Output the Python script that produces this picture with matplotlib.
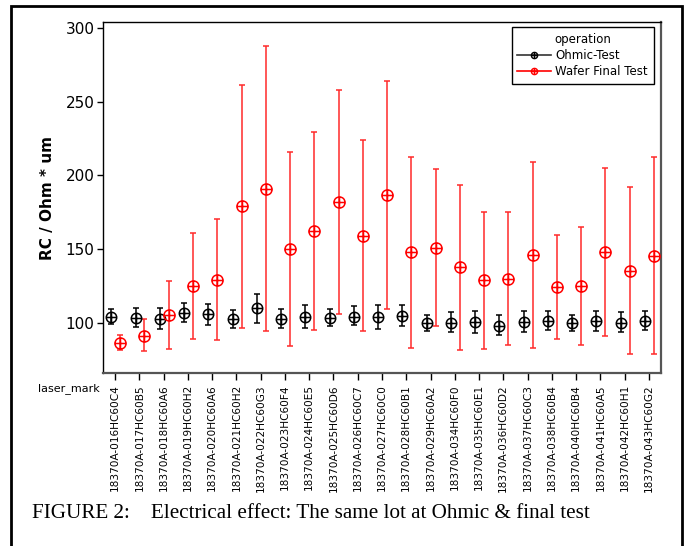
import matplotlib
matplotlib.use('Agg')
import matplotlib.pyplot as plt
import matplotlib.patches as mpatches
from matplotlib.path import Path
from matplotlib.lines import Line2D
import numpy as np


laser_marks = [
    '18370A-016HC60C4', '18370A-017HC60B5', '18370A-018HC60A6', '18370A-019HC60H2',
    '18370A-020HC60A6', '18370A-021HC60H2', '18370A-022HC60G3', '18370A-023HC60F4',
    '18370A-024HC60E5', '18370A-025HC60D6', '18370A-026HC60C7', '18370A-027HC60C0',
    '18370A-028HC60B1', '18370A-029HC60A2', '18370A-034HC60F0', '18370A-035HC60E1',
    '18370A-036HC60D2', '18370A-037HC60C3', '18370A-038HC60B4', '18370A-040HC60B4',
    '18370A-041HC60A5', '18370A-042HC60H1', '18370A-043HC60G2',
]

# Ohmic-Test: mean, upper and lower bar ends
ohmic_mean = [104.3, 103.6, 102.7, 107.0, 106.3, 102.5, 110.0, 102.7, 104.1, 103.4, 104.3, 104.3,
              105.0, 99.8, 99.8, 100.5, 98.2, 100.9, 101.4, 99.8, 101.4, 99.8, 101.4]
ohmic_hi = [109.5, 110.4, 110.4, 113.8, 113.1, 108.8, 119.9, 109.5, 112.2, 109.5, 111.5, 112.2,
            112.2, 105.4, 107.3, 108.1, 105.4, 108.1, 108.1, 105.6, 108.1, 107.3, 108.1]
ohmic_lo = [99.5, 97.1, 95.9, 100.9, 98.4, 96.8, 100.2, 96.8, 96.8, 97.8, 98.6, 95.7,
            98.0, 94.8, 93.9, 93.4, 91.9, 94.1, 95.0, 94.4, 94.8, 93.9, 95.2]

# Wafer Final Test
final_mean = [86.2, 91.4, 105.4, 125.0, 129.2, 179.3, 190.6, 150.4, 162.6, 182.0, 159.0, 186.8,
              147.9, 150.6, 137.7, 129.2, 130.0, 145.9, 124.2, 125.0, 147.9, 135.0, 145.2]
final_hi = [91.7, 102.9, 128.5, 161.2, 170.3, 261.6, 288.0, 216.1, 229.7, 258.2, 224.0, 264.0,
            212.8, 204.2, 193.3, 175.3, 175.3, 209.4, 159.9, 165.1, 205.3, 192.4, 212.3]
final_lo = [81.7, 80.8, 82.4, 88.9, 88.2, 96.8, 94.4, 84.2, 95.0, 106.3, 94.6, 109.7,
            83.3, 98.0, 81.7, 82.4, 85.1, 83.3, 89.2, 85.3, 91.0, 79.2, 79.0]

# circle with a cross inside
circ = Path.unit_circle()
cross = Path([(-1, 0), (1, 0), (0, -1), (0, 1)],
             [Path.MOVETO, Path.LINETO, Path.MOVETO, Path.LINETO])
CIRCLE_PLUS = Path.make_compound_path(circ, cross)

fig = plt.figure(figsize=(6.88, 5.46), dpi=100)
ax = fig.add_axes([0.1497, 0.3168, 0.8111, 0.6429])

x = np.arange(len(laser_marks))


def draw_group(offset, mean, hi, lo, color, ecolor, ms):
    mean = np.array(mean)
    yerr = [mean - np.array(lo), np.array(hi) - mean]
    ax.errorbar(x + offset, mean, yerr=yerr, fmt='none', ecolor=ecolor,
                elinewidth=1.1, capsize=2, capthick=1.1, zorder=2)
    ax.plot(x + offset, mean, ls='none', marker=CIRCLE_PLUS, ms=ms,
            mfc='none', mec=color, mew=1.1, zorder=3)


draw_group(-0.16, ohmic_mean, ohmic_hi, ohmic_lo, 'black', 'black', 7.5)
draw_group(0.21, final_mean, final_hi, final_lo, 'red', '#ff2a2a', 8)

ax.set_xlim(-0.5, len(laser_marks) - 0.5)
ax.set_ylim(66, 304)
ax.set_yticks([100, 150, 200, 250, 300])
ax.tick_params(axis='y', labelsize=11, length=4, width=1, pad=2)
ax.set_xticks(x)
ax.set_xticklabels(laser_marks, rotation=90, fontsize=7.6)
ax.tick_params(axis='x', length=5, width=1, pad=3)
ax.set_ylabel('RC / Ohm * um', fontsize=11, fontweight='bold', labelpad=8)

for side in ['left', 'top']:
    ax.spines[side].set_color('black')
    ax.spines[side].set_linewidth(1)
for side in ['right', 'bottom']:
    ax.spines[side].set_color('#555555')
    ax.spines[side].set_linewidth(1.6)

fig.text(38 / 688, 1 - 389 / 546, 'laser_mark', fontsize=8, va='center', ha='left')

handles = [
    Line2D([], [], color='#333333', lw=1.2, marker=CIRCLE_PLUS, ms=4.5, mfc='none', mec='black', mew=1),
    Line2D([], [], color='red', lw=1.2, marker=CIRCLE_PLUS, ms=4.5, mfc='none', mec='red', mew=1),
]
leg = ax.legend(handles, ['Ohmic-Test', 'Wafer Final Test'], title='operation',
                loc='upper right', bbox_to_anchor=(0.987, 0.986), borderaxespad=0,
                fontsize=8.5, title_fontsize=8.5, frameon=True, fancybox=False,
                framealpha=1, edgecolor='black', handlelength=2.8, handletextpad=0.4,
                borderpad=0.5, labelspacing=0.25)
leg.get_frame().set_linewidth(1)

# caption
fig.text(32 / 688, 1 - 513 / 546,
         'FIGURE 2:    Electrical effect: The same lot at Ohmic & final test',
         fontsize=15.2, family='Liberation Serif', va='center', ha='left')

# outer frame
frame = mpatches.Rectangle((11 / 688, -0.05), (682 - 11) / 688, 1.05 - 6 / 546,
                           transform=fig.transFigure, fill=False,
                           edgecolor='black', linewidth=2, clip_on=False)
fig.patches.append(frame)

fig.savefig('out.png', dpi=100, facecolor='white')
